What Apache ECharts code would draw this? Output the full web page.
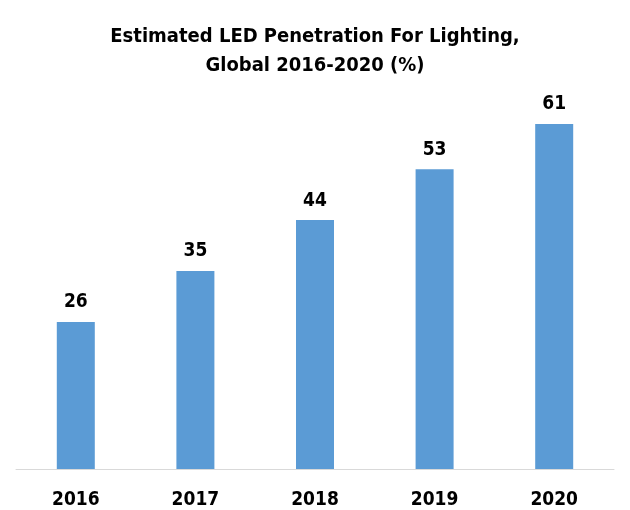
<!DOCTYPE html>
<html>
<head>
<meta charset="utf-8">
<script src="https://cdn.jsdelivr.net/npm/echarts@6/dist/echarts.min.js"></script>
<style>
html,body{margin:0;padding:0;background:#fff;}
#chart{width:630px;height:510px;}
</style>
</head>
<body>
<div id="chart"></div>
<script>
var categories = ['2016', '2017', '2018', '2019', '2020'];
var penetration = [26, 35, 44, 53, 61];

var FONT = '"Liberation Sans Narrow", "DejaVu Sans Condensed", "Liberation Sans", sans-serif';
var chart = echarts.init(document.getElementById('chart'));
chart.setOption({
  animation: false,
  backgroundColor: '#ffffff',
  title: {
    text: 'Estimated LED Penetration For Lighting,\nGlobal 2016-2020 (%)',
    left: 'center',
    top: 17,
    textStyle: {
      fontFamily: FONT,
      fontWeight: 'bold',
      fontSize: 20,
      lineHeight: 29,
      color: '#000'
    }
  },
  grid: { left: 16, right: 16, top: 73, bottom: 40 },
  xAxis: {
    type: 'category',
    data: categories,
    axisLine: { lineStyle: { color: '#d9d9d9', width: 1 } },
    axisTick: { show: false },
    axisLabel: {
      margin: 22,
      fontFamily: FONT,
      fontWeight: 'bold',
      fontSize: 19,
      color: '#000'
    }
  },
  yAxis: {
    type: 'value',
    min: 0,
    max: 70,
    show: false,
    splitLine: { show: false }
  },
  series: [{
    type: 'bar',
    data: penetration,
    barWidth: 38,
    itemStyle: { color: '#5b9bd5' },
    label: {
      show: true,
      position: 'top',
      distance: 10,
      fontFamily: FONT,
      fontWeight: 'bold',
      fontSize: 19,
      color: '#000'
    }
  }]
});
</script>
</body>
</html>
